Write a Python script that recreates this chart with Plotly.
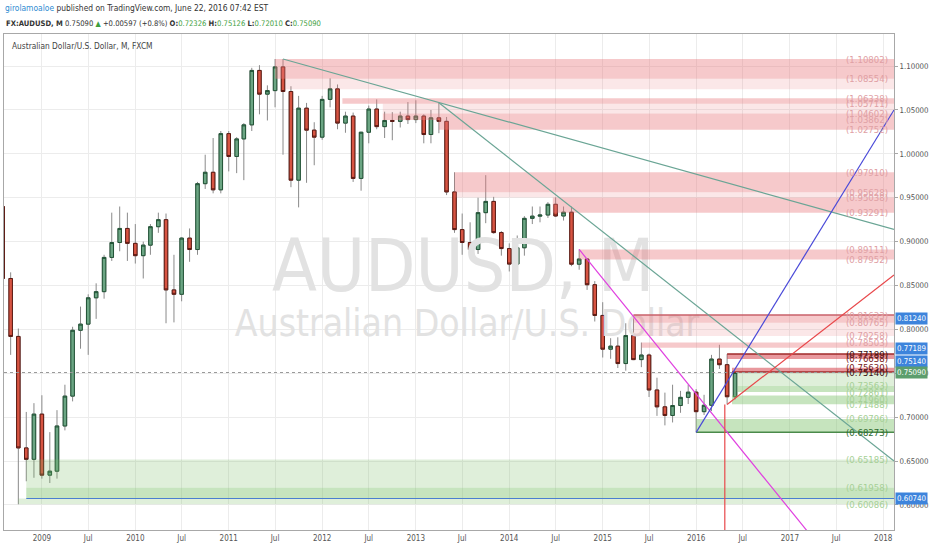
import pandas as pd
import plotly.graph_objects as go

# monthly AUDUSD candles, Aug 2008 .. Jun 2016
months = pd.date_range("2008-08-01", "2016-06-01", freq="MS")

opens = [
    0.9400, 0.8580, 0.7920, 0.6650, 0.6520,
    0.7035, 0.6340, 0.6385, 0.6900, 0.7240, 0.7990, 0.8060, 0.8360, 0.8430, 0.8820, 0.8990, 0.9150,
    0.8980, 0.8840, 0.8960, 0.9170, 0.9250, 0.8450, 0.8400, 0.9040, 0.8910, 0.9660, 0.9790, 0.9590,
    1.0230, 0.9970, 1.0170, 1.0330, 1.0950, 1.0680, 1.0720, 1.0990, 1.0710, 0.9700, 1.0520, 1.0270,
    1.0190, 1.0620, 1.0740, 1.0350, 1.0430, 0.9720, 1.0246, 1.0510, 1.0310, 1.0380, 1.0370, 1.0430,
    1.0390, 1.0430, 1.0220, 1.0410, 1.0370, 0.9566, 0.9137, 0.8990, 0.8910, 0.9330, 0.9458, 0.9103,
    0.8921, 0.8744, 0.8930, 0.9265, 0.9290, 0.9303, 0.9425, 0.9292, 0.9335, 0.8743, 0.8802, 0.8509,
    0.8159, 0.7775, 0.7809, 0.7611, 0.7930, 0.7656, 0.7708, 0.7310, 0.7118, 0.7020, 0.7133, 0.7226,
    0.7285, 0.7063, 0.7136, 0.7662, 0.7598, 0.72326,
]
highs = [
    0.9440, 0.8650, 0.8010, 0.7060, 0.7160,
    0.7250, 0.6830, 0.7080, 0.7370, 0.8030, 0.8260, 0.8400, 0.8525, 0.8850, 0.9330, 0.9400, 0.9330,
    0.9200, 0.9000, 0.9200, 0.9330, 0.9320, 0.8850, 0.9050, 0.9150, 0.9680, 0.9990, 1.0180, 1.0260,
    1.0260, 1.0190, 1.0350, 1.0980, 1.1010, 1.0780, 1.1080, 1.1080, 1.0770, 1.0660, 1.0580, 1.0360,
    1.0660, 1.0860, 1.0790, 1.0480, 1.0470, 1.0250, 1.0550, 1.0620, 1.0480, 1.0475, 1.0480, 1.0590,
    1.0610, 1.0450, 1.0500, 1.0582, 1.0420, 0.9790, 0.9320, 0.9220, 0.9500, 0.9757, 0.9510, 0.9120,
    0.8980, 0.9070, 0.9290, 0.9400, 0.9400, 0.9450, 0.9504, 0.9400, 0.9400, 0.8911, 0.8810, 0.8550,
    0.8310, 0.7900, 0.7910, 0.8070, 0.8163, 0.7850, 0.7725, 0.7450, 0.7280, 0.7370, 0.7300, 0.7370,
    0.7320, 0.7255, 0.7710, 0.7825, 0.7719, 0.75126,
]
lows = [
    0.8560, 0.7710, 0.6008, 0.6270, 0.6310,
    0.6300, 0.6250, 0.6300, 0.6850, 0.7180, 0.7780, 0.7710, 0.8120, 0.8350, 0.8780, 0.8890, 0.8780,
    0.8750, 0.8580, 0.8850, 0.9100, 0.8070, 0.8080, 0.8320, 0.8770, 0.8850, 0.9600, 0.9550, 0.9550,
    0.9800, 0.9780, 0.9700, 1.0260, 1.0450, 1.0380, 1.0530, 0.9990, 0.9620, 0.9390, 0.9670, 0.9870,
    1.0160, 1.0530, 1.0280, 1.0240, 0.9680, 0.9580, 1.0120, 1.0280, 1.0180, 1.0155, 1.0300, 1.0340,
    1.0350, 1.0120, 1.0120, 1.0235, 0.9530, 0.9100, 0.8850, 0.8850, 0.8860, 0.9210, 0.9090, 0.8840,
    0.8660, 0.8700, 0.8840, 0.9200, 0.9220, 0.9270, 0.9280, 0.9240, 0.8720, 0.8680, 0.8450, 0.8090,
    0.7680, 0.7665, 0.7560, 0.7530, 0.7650, 0.7570, 0.7230, 0.7015, 0.6907, 0.6940, 0.7050, 0.7150,
    0.6827, 0.7025, 0.7070, 0.7550, 0.7145, 0.72010,
]
closes = [
    0.8580, 0.7920, 0.6650, 0.6520, 0.7035,
    0.6340, 0.6385, 0.6900, 0.7240, 0.7990, 0.8060, 0.8360, 0.8430, 0.8820, 0.8990, 0.9150, 0.8980,
    0.8840, 0.8960, 0.9170, 0.9250, 0.8450, 0.8400, 0.9040, 0.8910, 0.9660, 0.9790, 0.9590, 1.0230,
    0.9970, 1.0170, 1.0330, 1.0950, 1.0680, 1.0720, 1.0990, 1.0710, 0.9700, 1.0520, 1.0270, 1.0190,
    1.0620, 1.0740, 1.0350, 1.0430, 0.9720, 1.0246, 1.0510, 1.0310, 1.0380, 1.0370, 1.0430, 1.0390,
    1.0430, 1.0220, 1.0410, 1.0370, 0.9566, 0.9137, 0.8990, 0.8910, 0.9330, 0.9458, 0.9103, 0.8921,
    0.8744, 0.8930, 0.9265, 0.9290, 0.9303, 0.9425, 0.9292, 0.9335, 0.8743, 0.8802, 0.8509, 0.8159,
    0.7775, 0.7809, 0.7611, 0.7930, 0.7656, 0.7708, 0.7310, 0.7118, 0.7020, 0.7133, 0.7226, 0.7285,
    0.7063, 0.7136, 0.7662, 0.7598, 0.7233, 0.75090,
]

# level zones drawn from swing points to the right edge
zone_start = [
    "2011-07-01", "2011-08-10", "2012-03-20", "2012-08-25", "2012-08-25", "2013-04-01",
    "2013-06-01", "2013-06-01", "2014-06-20", "2014-10-01",
    "2015-05-01", "2015-05-01", "2015-06-01", "2016-05-01", "2016-05-20",
    "2016-06-10", "2016-06-10", "2016-05-20", "2016-01-01",
    "2008-11-01", "2008-11-01", "2008-10-01",
]
zone_top = [
    1.10802, 1.08554, 1.06338, 1.05711, 1.04602, 1.03862,
    0.97910, 0.95628, 0.95038, 0.89111,
    0.81633, 0.80765, 0.78503, 0.77189, 0.75630,
    0.75090, 0.73563, 0.72461, 0.69796,
    0.65185, 0.61958, 0.60740,
]
zone_bottom = [
    1.08554, 1.07350, 1.05711, 1.04602, 1.03862, 1.02752,
    0.95628, 0.95038, 0.93291, 0.87952,
    0.80765, 0.79258, 0.77900, 0.76638, 0.75140,
    0.73563, 0.72861, 0.71488, 0.68273,
    0.61958, 0.60740, 0.60086,
]
zone_tone = [
    "pink", "pink_l", "pink", "pink_l", "pink", "pink",
    "pink", "pink_l", "pink", "pink",
    "pink", "pink_l", "pink", "red", "red",
    "green_l", "green", "green", "green",
    "green_l", "green", "green_l",
]

# right-hand level captions
label_values = [
    1.10802, 1.08554, 1.06338, 1.05711, 1.04602, 1.03862, 1.02752,
    0.97910, 0.95628, 0.95038, 0.93291, 0.89111, 0.87952,
    0.81633, 0.80765, 0.79258, 0.78503, 0.77189, 0.76638, 0.75630, 0.75140,
    0.73563, 0.72861, 0.71960, 0.71488, 0.69796, 0.68273, 0.65185, 0.61958, 0.60086,
]
label_tone = [
    "pink", "pink", "pink", "pink", "pink", "pink", "pink",
    "pink", "pink", "pink", "pink", "pink", "pink",
    "pink", "pink", "pink", "pink", "dark", "darkred", "darkred", "dark",
    "green", "green", "green", "green", "green", "darkgreen", "green", "green", "green",
]

# trend lines: (start date, start price) -> (end date, end price)
line_x0 = ["2011-08-01", "2013-04-01", "2014-10-01", "2016-01-01", "2016-05-01", "2016-04-22"]
line_y0 = [1.1080, 1.0582, 0.8911, 0.6827, 0.7145, 0.7145]
line_x1 = ["2018-02-12", "2018-02-12", "2017-06-01", "2018-02-12", "2018-02-12", "2016-04-22"]
line_y1 = [0.9140, 0.6500, 0.5404, 1.0500, 0.8620, 0.5000]
line_color = ["#6aa595", "#6aa595", "#e040e0", "#4848d8", "#e8474a", "#e8474a"]

support_line = 0.60740
last_price = 0.75090

# price boxes on the scale: value, colour, pixel nudge
box_values = [0.81240, 0.77189, 0.75140, 0.75090, 0.60740]
box_colors = ["#3d84dc", "#3d84dc", "#3d84dc", "#5c9e6d", "#3d84dc"]
box_nudge = [0, 6, 11, 0, 0]

tick_dates = pd.date_range("2009-01-01", "2018-01-01", freq="6MS")
tick_text = [str(d.year) if d.month == 1 else "Jul" for d in tick_dates]

X_RANGE = ["2008-08-06", "2018-02-12"]
Y_RANGE = [0.5715, 1.1365]
EDGE = "2018-03-01"

NARROW = "Liberation Sans Narrow, DejaVu Sans Condensed, Arial Narrow, sans-serif"

tone_fill = {
    "pink": "rgba(232,120,126,0.40)",
    "pink_l": "rgba(232,120,126,0.18)",
    "red": "rgba(210,50,60,0.50)",
    "green": "rgba(120,190,100,0.42)",
    "green_l": "rgba(120,190,100,0.24)",
}
label_color = {
    "pink": "#e0a0a4",
    "dark": "#3a1010",
    "darkred": "#7a2020",
    "green": "#a6d096",
    "darkgreen": "#2f6b2f",
}

fig = go.Figure()

# watermark behind everything
fig.add_trace(go.Scatter(
    x=["2013-07-05"], y=[0.8640], mode="text", text=["AUDUSD, M"],
    textfont=dict(size=73, color="#e2e2e2", family=NARROW),
    hoverinfo="skip",
))
fig.add_trace(go.Scatter(
    x=["2013-07-20"], y=[0.8030], mode="text", text=["Australian Dollar/U.S. Dollar"],
    textfont=dict(size=37, color="#e2e2e2", family=NARROW),
    hoverinfo="skip",
))

for s, t, b, tone in zip(zone_start, zone_top, zone_bottom, zone_tone):
    fig.add_trace(go.Scatter(
        x=[s, EDGE, EDGE, s, s], y=[t, t, b, b, t],
        mode="lines", fill="toself", fillcolor=tone_fill[tone],
        line=dict(width=0), hoverinfo="skip",
    ))

# a few of the levels have a solid edge
for s, v, c in [("2015-05-01", 0.81633, "#c8606a"), ("2016-05-01", 0.77189, "#a02a2a"),
                ("2016-05-20", 0.75140, "#a02a2a"), ("2016-01-01", 0.68273, "#4a8a4a")]:
    fig.add_trace(go.Scatter(x=[s, EDGE], y=[v, v], mode="lines",
                             line=dict(color=c, width=1.5), hoverinfo="skip"))

fig.add_trace(go.Scatter(x=["2008-11-01", EDGE], y=[support_line, support_line], mode="lines",
                         line=dict(color="#4a7fd0", width=1.2), hoverinfo="skip"))
fig.add_trace(go.Scatter(x=[X_RANGE[0], EDGE], y=[last_price, last_price], mode="lines",
                         line=dict(color="#9a9a9a", width=1, dash="dot"), hoverinfo="skip"))

for x0, y0, x1, y1, c in zip(line_x0, line_y0, line_x1, line_y1, line_color):
    fig.add_trace(go.Scatter(x=[x0, x1], y=[y0, y1], mode="lines",
                             line=dict(color=c, width=1.2), hoverinfo="skip"))

# wicks (grey), then bodies with dark outlines
fig.add_trace(go.Candlestick(
    x=months, open=opens, high=highs, low=lows, close=closes,
    increasing=dict(line=dict(color="#8a8a8a", width=1), fillcolor="#6ba583"),
    decreasing=dict(line=dict(color="#8a8a8a", width=1), fillcolor="#d75442"),
    whiskerwidth=0, hoverinfo="skip",
))
fig.add_trace(go.Candlestick(
    x=months, open=opens, close=closes,
    high=[max(o, c) for o, c in zip(opens, closes)],
    low=[min(o, c) for o, c in zip(opens, closes)],
    increasing=dict(line=dict(color="#225437", width=1), fillcolor="#6ba583"),
    decreasing=dict(line=dict(color="#5b1a13", width=1), fillcolor="#d75442"),
    whiskerwidth=0, hoverinfo="skip",
))

annotations = []
for v, tone in zip(label_values, label_tone):
    annotations.append(dict(
        x=1, xref="paper", y=v, yref="y", xanchor="right", xshift=-4,
        text=f"({v:.5f})", showarrow=False,
        font=dict(size=9.5, color=label_color[tone], family=NARROW),
    ))
for v, c, n in zip(box_values, box_colors, box_nudge):
    annotations.append(dict(
        x=1, xref="paper", y=v, yref="y", xanchor="left", xshift=1, yshift=n,
        text=f"{v:.5f}", showarrow=False, bgcolor=c, borderpad=1,
        font=dict(size=7.8, color="white", family=NARROW),
    ))

annotations += [
    dict(x=0, xref="paper", y=1, yref="paper", xanchor="left", yanchor="middle",
         xshift=-1, yshift=26, showarrow=False, align="left",
         text='<span style="color:#2d8bd2">girolamoaloe</span> published on TradingView.com, June 22, 2016 07:42 EST',
         font=dict(size=8.4, color="#333333", family=NARROW)),
    dict(x=0, xref="paper", y=1, yref="paper", xanchor="left", yanchor="middle",
         xshift=0, yshift=11, showarrow=False, align="left",
         text=('<b>FX:AUDUSD, M</b> 0.75090 <span style="color:#3f9f3f">▲</span> +0.00597 (+0.8%) '
               '<b>O:</b><span style="color:#3f9f3f">0.72326</span> '
               '<b>H:</b><span style="color:#3f9f3f">0.75126</span> '
               '<b>L:</b><span style="color:#3f9f3f">0.72010</span> '
               '<b>C:</b><span style="color:#3f9f3f">0.75090</span>'),
         font=dict(size=7.6, color="#333333", family=NARROW)),
    dict(x=0, xref="paper", y=1, yref="paper", xanchor="left", yanchor="top",
         xshift=6, yshift=-5, showarrow=False,
         text="Australian Dollar/U.S. Dollar, M, FXCM",
         font=dict(size=8.3, color="#444444", family=NARROW)),
]

fig.update_layout(
    width=932, height=550,
    margin=dict(l=3, r=35, t=34, b=20),
    paper_bgcolor="white", plot_bgcolor="white",
    showlegend=False,
    annotations=annotations,
    font=dict(family=NARROW, color="#555555"),
)
fig.update_xaxes(
    type="date", range=X_RANGE, rangeslider_visible=False,
    tickvals=tick_dates, ticktext=tick_text, tickfont=dict(size=8, color="#555555"),
    showgrid=True, gridcolor="#ececec", gridwidth=1,
    showline=True, linecolor="#a8a8a8", mirror=True, ticks="", zeroline=False,
)
fig.update_yaxes(
    side="right", range=Y_RANGE, dtick=0.05, tick0=0.6, tickformat=".5f",
    tickfont=dict(size=7.8, color="#555555"),
    showgrid=True, gridcolor="#ececec", gridwidth=1,
    showline=True, linecolor="#a8a8a8", mirror=True, ticks="outside", ticklen=3,
    tickcolor="#a8a8a8", zeroline=False,
)

# the page body has a default 8px margin; drop it so the figure sits at the corner
fig.write_html("out.html", config={"displayModeBar": False},
               post_script="document.body.style.margin='0';")
